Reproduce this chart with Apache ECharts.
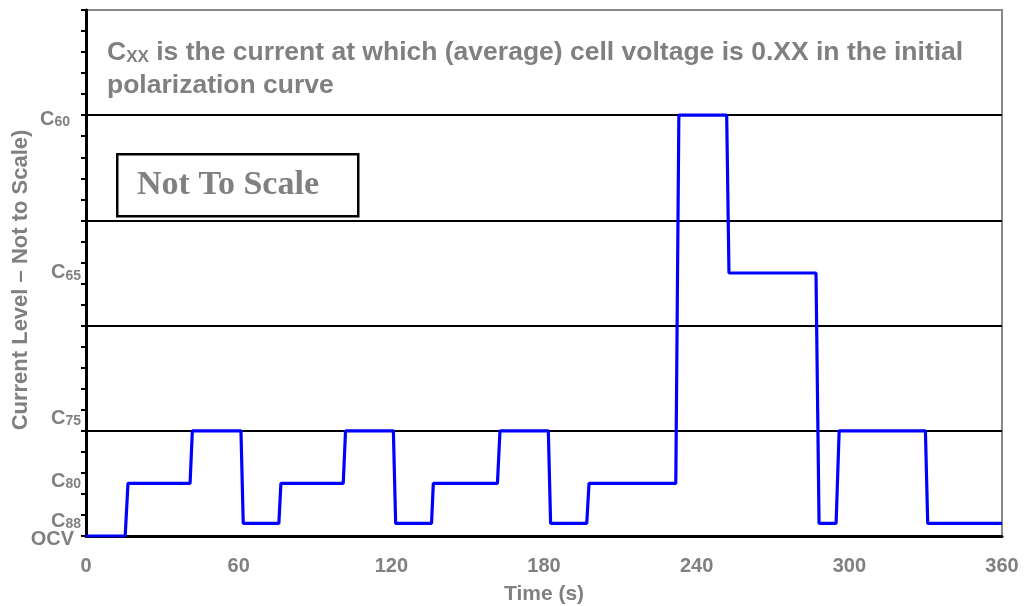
<!DOCTYPE html>
<html>
<head>
<meta charset="utf-8">
<script src="https://cdn.jsdelivr.net/npm/echarts@6/dist/echarts.min.js"></script>
<style>html,body{margin:0;padding:0;background:#fff}#c{width:1024px;height:606px}</style>
</head>
<body>
<div id="c"></div>
<script>
// ---- data ----
var levelNames = ['OCV', 'C88', 'C80', 'C75', 'C65', 'C60'];
var levelValues = [0, 0.6, 2.5, 5, 12.5, 20];
var stepTimes = [0, 15.4, 16.5, 40.9, 41.8, 60.9, 61.8, 75.8, 76.6, 101.1, 102, 120.8, 121.7, 135.8, 136.5, 161.7, 162.7, 181.7, 182.6, 196.8, 197.7, 231.8, 233, 251.8, 252.7, 286.9, 288.1, 294.8, 296, 329.9, 330.8, 360];
var stepLevels = ['OCV', 'OCV', 'C80', 'C80', 'C75', 'C75', 'C88', 'C88', 'C80', 'C80', 'C75', 'C75', 'C88', 'C88', 'C80', 'C80', 'C75', 'C75', 'C88', 'C88', 'C80', 'C80', 'C60', 'C60', 'C65', 'C65', 'C88', 'C88', 'C75', 'C75', 'C88', 'C88'];
var yTickMain = ['OCV', '88', '80', '75', '65', '60'];
var yTickLabelPos = [0, 0.8, 2.7, 5.7, 12.6, 19.9];
var xTicks = [0, 60, 120, 180, 240, 300, 360];

var gray = '#808080';
var FONT = 'Liberation Sans';
var seriesData = stepTimes.map(function (t, i) {
  return [t, levelValues[levelNames.indexOf(stepLevels[i])]];
});
var labelMap = {};
yTickLabelPos.forEach(function (v, i) { labelMap[Math.round(v * 10)] = yTickMain[i]; });

var chart = echarts.init(document.getElementById('c'));
chart.setOption({
  animation: false,
  grid: { left: 86, right: 22, top: 10, bottom: 70, containLabel: false, outerBoundsMode: 'none',
    show: true, borderColor: '#8a8a8a', borderWidth: 2, backgroundColor: '#fff' },
  xAxis: {
    type: 'value', min: 0, max: 360, interval: 60,
    axisLine: { show: true, lineStyle: { color: '#000', width: 3 } },
    axisTick: { show: false },
    splitLine: { show: false },
    axisLabel: { color: gray, fontSize: 20, fontWeight: 'bold', fontFamily: FONT, margin: 20,
      formatter: function (v) { return xTicks.indexOf(v) >= 0 ? String(v) : ''; } },
    name: 'Time (s)', nameLocation: 'middle', nameGap: 48,
    nameTextStyle: { color: gray, fontSize: 21, fontWeight: 'bold', fontFamily: FONT }
  },
  yAxis: [{
    type: 'value', min: 0, max: 25, interval: 1, position: 'left',
    axisLine: { show: true, lineStyle: { color: '#000', width: 3 } },
    axisTick: { show: true, inside: false, length: 5, lineStyle: { color: '#000', width: 2 } },
    axisLabel: { show: false },
    splitLine: { show: false }
  }, {
    type: 'value', min: 0, max: 25, interval: 5, position: 'left', offset: 0,
    axisLine: { show: false }, axisTick: { show: false }, axisLabel: { show: false },
    splitLine: { show: true, showMinLine: false, showMaxLine: false, lineStyle: { color: '#000', width: 2 } }
  }, {
    type: 'value', min: 0, max: 25, interval: 0.1, position: 'left', offset: 0,
    axisLine: { show: false }, axisTick: { show: false }, splitLine: { show: false },
    axisLabel: {
      show: true, margin: 5,
      formatter: function (v) {
        var k = labelMap[Math.round(v * 10)];
        if (!k) return '';
        if (k === 'OCV') return '{o|OCV}{p7|}';
        if (k === '60') return '{c|C}{s|60}{p11|}';
        return '{c|C}{s|' + k + '}';
      },
      rich: {
        o: { color: gray, fontSize: 20, fontWeight: 'bold', fontFamily: FONT, lineHeight: 24, padding: [7, 0, 0, 0] },
        c: { color: gray, fontSize: 20, fontWeight: 'bold', fontFamily: FONT, verticalAlign: 'bottom', lineHeight: 24 },
        s: { color: gray, fontSize: 14, fontWeight: 'bold', fontFamily: FONT, verticalAlign: 'bottom', lineHeight: 10 },
        p7: { width: 7, lineHeight: 10 },
        p11: { width: 11, lineHeight: 10 }
      }
    }
  }],
  graphic: [{
    type: 'text', x: 21, y: 280, rotation: Math.PI / 2, z: 10,
    style: {
      text: 'Current Level \u2013 Not to Scale)', fill: gray,
      font: 'bold 22px "Liberation Sans"', align: 'center', verticalAlign: 'middle'
    }
  }, {
    type: 'text', left: 107, top: 39, z: 10,
    style: {
      text: '{a|C}{s|XX}{a| is the current at which (average) cell voltage is 0.XX in the initial}\n{a|polarization curve}',
      rich: {
        a: { fill: gray, fontSize: 26.5, fontWeight: 'bold', fontFamily: FONT, lineHeight: 33, verticalAlign: 'bottom' },
        s: { fill: gray, fontSize: 17, fontWeight: 'bold', fontFamily: FONT, lineHeight: 20, verticalAlign: 'bottom' }
      }
    }
  }, {
    type: 'rect', left: 116, top: 153, z: 10,
    shape: { width: 241, height: 62 },
    style: { fill: '#fff', stroke: '#000', lineWidth: 2.5 }
  }, {
    type: 'text', x: 137, y: 185, z: 11,
    style: { text: 'Not To Scale', fill: gray, font: 'bold 34px "Liberation Serif"', verticalAlign: 'middle' }
  }],
  series: [{
    type: 'line', xAxisIndex: 0, yAxisIndex: 0,
    data: seriesData, showSymbol: false, symbol: 'none',
    lineStyle: { color: '#0000ff', width: 3.2 },
    z: 5
  }]
});
</script>
</body>
</html>
